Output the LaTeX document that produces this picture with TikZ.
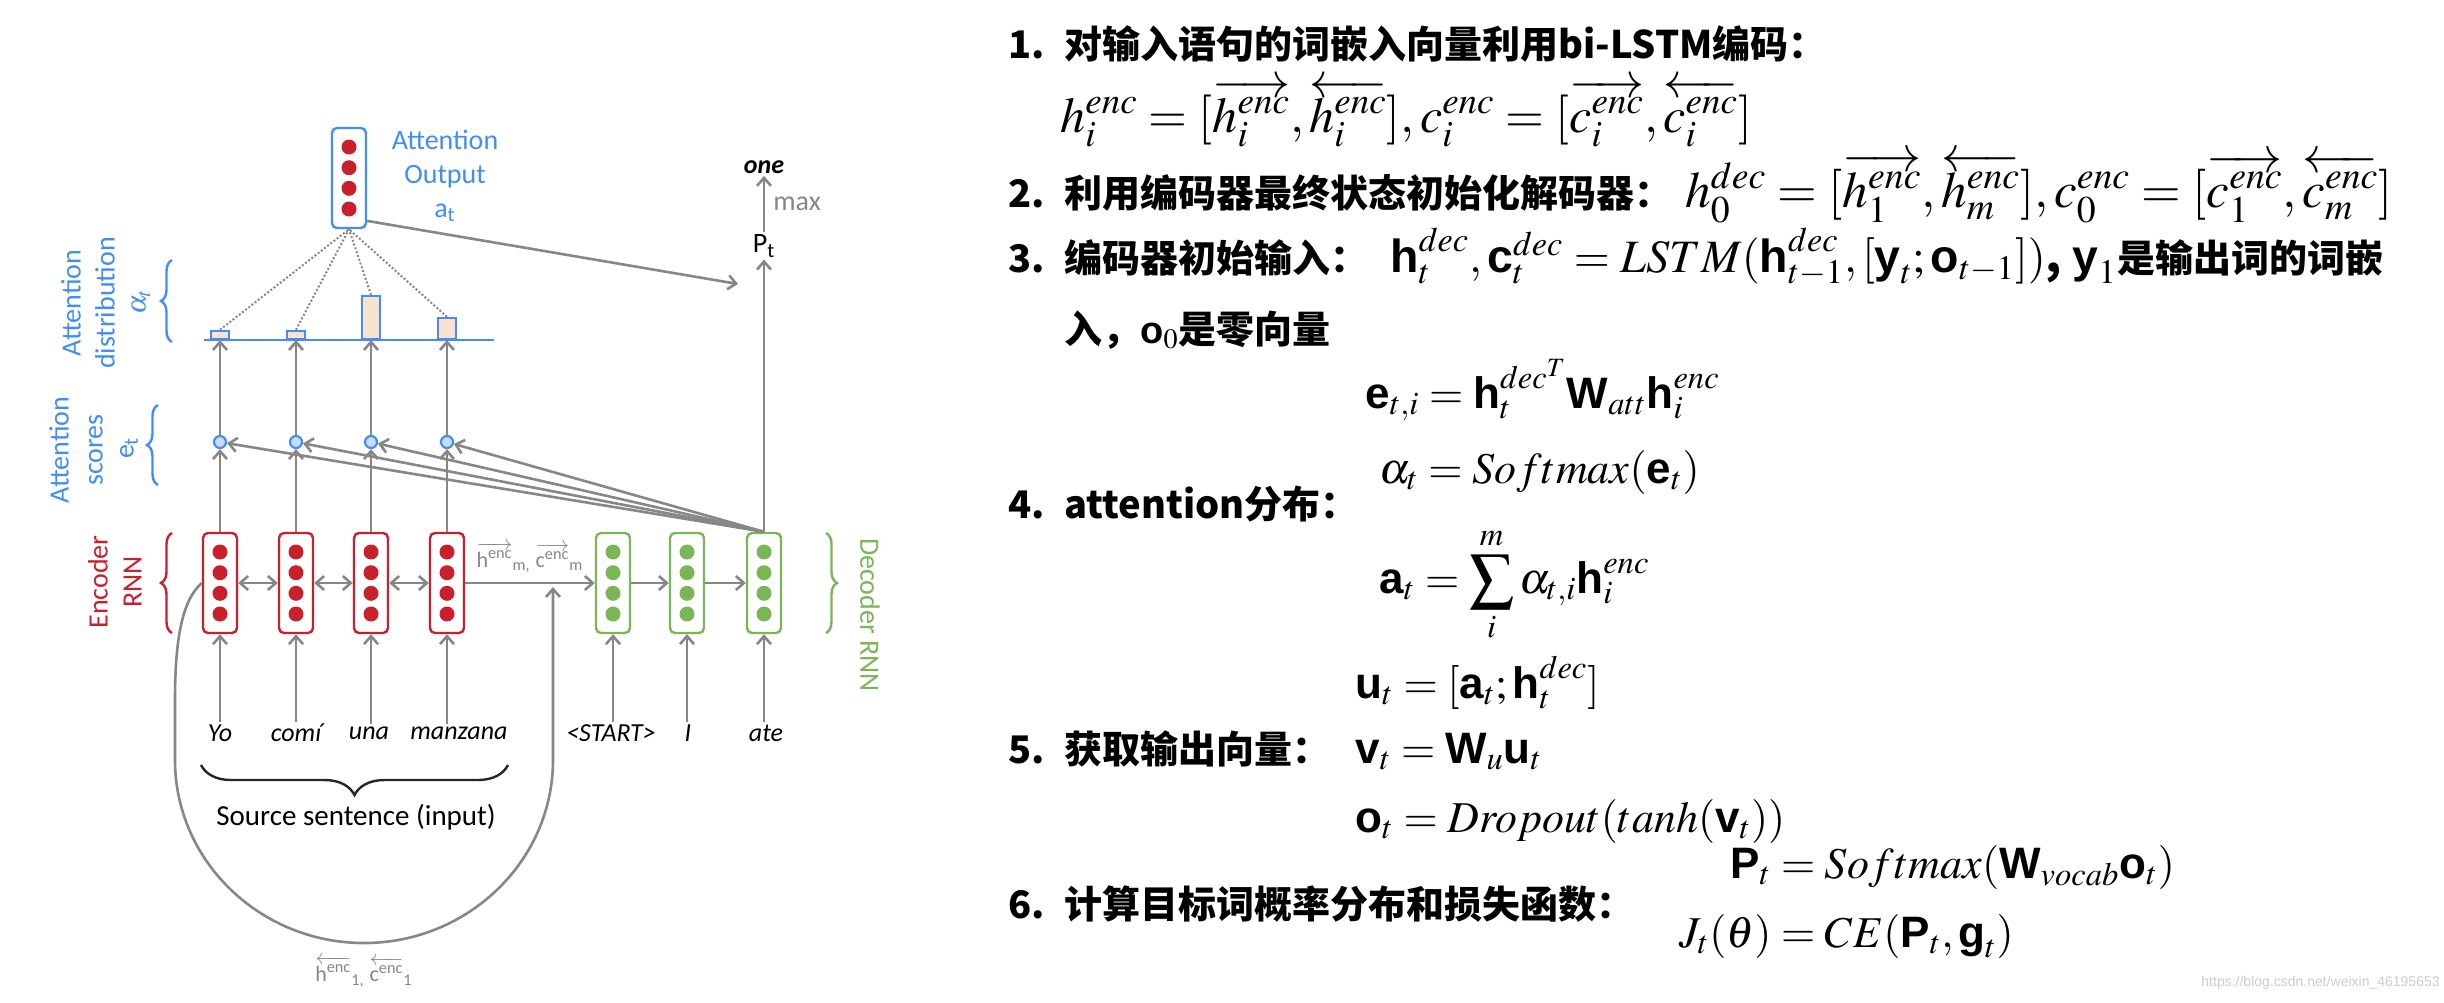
\documentclass[tikz,border=0pt]{standalone}
\usepackage{amsmath}
\usepackage{mathptmx}
\usepackage[no-math]{fontspec}
\setmainfont{Liberation Sans}
\setsansfont{Liberation Sans}
\newfontfamily\cjkfont{Noto Sans CJK SC}
\newfontfamily\diagfont{Carlito}
\usepackage{tikz}
\usetikzlibrary{arrows.meta, decorations.pathreplacing, positioning}

\definecolor{encred}{RGB}{200,32,44}
\definecolor{decgreen}{RGB}{122,182,86}
\definecolor{attblue}{RGB}{66,142,244}
\definecolor{linegray}{RGB}{135,135,135}
\definecolor{barfill}{RGB}{251,226,206}

\newcommand{\vecb}[1]{\text{\sffamily\bfseries #1}}
\newcommand{\stepno}[1]{\makebox[28pt][l]{#1}}

\begin{document}
\begin{tikzpicture}[
        x=0.5pt, y=-0.5pt,
        cell/.style={draw, rounded corners=2.5pt, line width=1.2pt, fill=white, minimum width=17pt, minimum height=50pt, inner sep=0pt},
        bead/.style={circle, inner sep=0pt, minimum size=7.5pt},
        score/.style={circle, draw=attblue, fill=attblue!30, line width=1.1pt, minimum size=6pt, inner sep=0pt},
        bar/.style={draw=attblue, fill=barfill, line width=1.1pt, minimum width=9pt, inner sep=0pt, anchor=south},
        conn/.style={draw=linegray, line width=1.3pt, -{Straight Barb[length=4pt, width=7pt]}},
        biconn/.style={conn, {Straight Barb[length=4pt, width=7pt]}-{Straight Barb[length=4pt, width=7pt]}},
        attlink/.style={draw=linegray, line width=1pt, densely dotted},
        lbl/.style={font=\diagfont\fontsize{14}{17}\selectfont, inner sep=1pt, align=center},
        word/.style={font=\diagfont\itshape\fontsize{13}{16}\selectfont, inner sep=1pt},
        brc/.style={decorate, decoration={brace, amplitude=5.5pt}, line width=1.2pt},
        txt/.style={anchor=base west, inner sep=0pt, font=\cjkfont\bfseries\fontsize{19}{23}\selectfont},
        mth/.style={anchor=base west, inner sep=0pt, font=\cjkfont\bfseries\fontsize{22}{26}\selectfont},
        bigmth/.style={mth, font=\cjkfont\bfseries\fontsize{#1}{30}\selectfont}
    ]
    \fill[white] (0,0) rectangle (2444,1002);
    \useasboundingbox (0,0) rectangle (2444,1002);

    % attention output
    \node[cell, draw=attblue] (att) at (349,178) {};
    \foreach \k/\d in {1/-31, 2/-10.3, 3/10.3, 4/31}
        \node[bead, fill=encred] (att-\k) at (349,{178+\d}) {};
    \node[lbl, text=attblue] (attlab) at (445,176) {Attention\\Output\\a\textsubscript{t}};

    % encoder and decoder
    \foreach \n/\x in {1/220, 2/296, 3/371, 4/447} {
        \node[cell, draw=encred] (enc\n) at (\x,583) {};
        \foreach \k/\d in {1/-31, 2/-10.3, 3/10.3, 4/31}
            \node[bead, fill=encred] (enc\n-\k) at (\x,{583+\d}) {};
        \node[score] (sc\n) at (\x,442) {};
    }
    \foreach \n/\x in {1/613, 2/687, 3/764} {
        \node[cell, draw=decgreen] (dec\n) at (\x,583) {};
        \foreach \k/\d in {1/-31, 2/-10.3, 3/10.3, 4/31}
            \node[bead, fill=decgreen] (dec\n-\k) at (\x,{583+\d}) {};
    }

    % attention distribution
    \node[bar, minimum height=4pt] (bar1) at (220,340) {};
    \node[bar, minimum height=4pt] (bar2) at (296,340) {};
    \node[bar, minimum height=21.5pt] (bar3) at (371,340) {};
    \node[bar, minimum height=10.5pt] (bar4) at (447,340) {};
    \coordinate (axisL) at (204,340);
    \coordinate (axisR) at (494,340);
    \draw[attblue, line width=1.4pt] (axisL) -- (axisR);

    \foreach \n in {1,...,4} {
        \draw[conn] (enc\n) -- (sc\n);
        \draw[conn] (sc\n) -- (bar\n.south);
        \draw[conn] (dec3.north) -- (sc\n);
        \draw[attlink] (bar\n.north) -- (att.south);
    }

    % output
    \node[lbl, font=\diagfont\itshape\bfseries\fontsize{13}{16}\selectfont] (one) at (764,167) {one};
    \node[lbl] (pt) at (764,246) {P\textsubscript{t}};
    \coordinate (pjoin) at (738,284);
    \draw[conn] (dec3) -- (pt);
    \draw[conn] (pt) -- node[lbl, right=3pt, text=linegray] (maxlab) {max} (one);
    \draw[conn] (att.-67) -- (pjoin);

    % recurrence
    \draw[biconn] (enc1) -- (enc2);
    \draw[biconn] (enc2) -- (enc3);
    \draw[biconn] (enc3) -- (enc4);
    \draw[conn] (enc4) -- node[above=1pt, text=linegray, font=\diagfont\fontsize{11}{13}\selectfont] (hm)
        {$\overrightarrow{\text{h}^{\text{enc}}}$\textsubscript{m,} $\overrightarrow{\text{c}^{\text{enc}}}$\textsubscript{m}} (dec1);
    \draw[conn] (dec1) -- (dec2);
    \draw[conn] (dec2) -- (dec3);
    \coordinate (merge) at (553,587);
    \draw[conn] (enc1.west) .. controls (182,600) and (175,640) .. (175,700) -- (175,760)
        .. controls (175,861) and (260,943) .. (364,943)
        .. controls (468,943) and (553,861) .. (553,760) -- (merge);
    \node[text=linegray, font=\diagfont\fontsize{11}{13}\selectfont] (h1) at (364,972)
        {$\overleftarrow{\text{h}^{\text{enc}}}$\textsubscript{1,} $\overleftarrow{\text{c}^{\text{enc}}}$\textsubscript{1}};

    % inputs
    \node[word] (w1) at (220,733) {Yo};
    \node[word] (w2) at (296,733) {comí};
    \node[word] (w3) at (369,733) {una};
    \node[word] (w4) at (459,733) {manzana};
    \node[word] (w5) at (611,733) {<START>};
    \node[word] (w6) at (688,733) {I};
    \node[word] (w7) at (766,733) {ate};
    \draw[conn] (enc1 |- w1.north) -- (enc1);
    \draw[conn] (enc2 |- w2.north) -- (enc2);
    \draw[conn] (enc3 |- w3.north) -- (enc3);
    \draw[conn] (enc4 |- w4.north) -- (enc4);
    \draw[conn] (dec1 |- w5.north) -- (dec1);
    \draw[conn] (dec2 |- w6.north) -- (dec2);
    \draw[conn] (dec3 |- w7.north) -- (dec3);
    \draw[brc, decoration={brace, amplitude=15pt}, black!85] (508,765) -- (201,765);
    \node[lbl, font=\diagfont\fontsize{14.5}{17}\selectfont] (src) at (356,817) {Source sentence (input)};

    % braces and side labels
    \draw[brc, attblue] (172,342) -- (172,260);
    \draw[brc, attblue] (158,485) -- (158,405);
    \draw[brc, encred] (172,633) -- (172,533);
    \draw[brc, decgreen] (826,533) -- (826,633);
    \node[lbl, text=attblue, rotate=90] (distlab) at (88,303) {Attention\\distribution};
    \node[lbl, text=attblue, rotate=90] (alab) at (141,302) {$\alpha_t$};
    \node[lbl, text=attblue, rotate=90] (scorelab) at (76,450) {Attention\\scores};
    \node[lbl, text=attblue, rotate=90] (elab) at (129,448) {e\textsubscript{t}};
    \node[lbl, text=encred, rotate=90] (enclab) at (115,582) {Encoder\\RNN};
    \node[lbl, text=decgreen, rotate=-90] (declab) at (870,615) {Decoder RNN};

    % steps
    \node[txt] (l1) at (1008,58) {\stepno{1.}对输入语句的词嵌入向量利用bi-LSTM编码：};
    \node[bigmth=25] (f1) at (1060,132) {$h_i^{enc} = [\overrightarrow{h_i^{enc}}, \overleftarrow{h_i^{enc}}], c_i^{enc} = [\overrightarrow{c_i^{enc}}, \overleftarrow{c_i^{enc}}]$};
    \node[txt] (l2) at (1008,207) {\stepno{2.}利用编码器最终状态初始化解码器：};
    \node[bigmth=25.5] (f2) at (1685,207) {$h_0^{dec} = [\overrightarrow{h_1^{enc}}, \overleftarrow{h_m^{enc}}], c_0^{enc} = [\overrightarrow{c_1^{enc}}, \overleftarrow{c_m^{enc}}]$};
    \node[txt] (l3) at (1008,272) {\stepno{3.}编码器初始输入：};
    \node[bigmth=23.2] (f3) at (1390,272) {$\vecb{h}_t^{dec}, \vecb{c}_t^{dec} = LSTM(\vecb{h}_{t-1}^{dec}, [\vecb{y}_t; \vecb{o}_{t-1}])$, $\vecb{y}_1$};
    \node[txt] (l3c) at (f3.base east) {是输出词的词嵌};
    \node[txt] (l3d) at (1064,343) {入，$\vecb{o}_0$是零向量};
    \node[mth] (f4) at (1365,408) {$\vecb{e}_{t,i} = \vecb{h}_t^{dec^T}\vecb{W}_{att}\vecb{h}_i^{enc}$};
    \node[mth] (f5) at (1379,483) {$\alpha_t = Softmax(\vecb{e}_t)$};
    \node[txt] (l4) at (1008,518) {\stepno{4.}attention分布：};
    \node[mth] (f6) at (1379,593) {$\displaystyle \vecb{a}_t = \sum_i^m \alpha_{t,i}\vecb{h}_i^{enc}$};
    \node[mth] (f7) at (1355,698) {$\vecb{u}_t = [\vecb{a}_t; \vecb{h}_t^{dec}]$};
    \node[txt] (l5) at (1008,763) {\stepno{5.}获取输出向量：};
    \node[mth] (f8) at (1355,763) {$\vecb{v}_t = \vecb{W}_u\vecb{u}_t$};
    \node[mth] (f9) at (1355,832) {$\vecb{o}_t = Dropout(tanh(\vecb{v}_t))$};
    \node[mth] (f10) at (1730,878) {$\vecb{P}_t = Softmax(\vecb{W}_{vocab}\vecb{o}_t)$};
    \node[txt] (l6) at (1008,918) {\stepno{6.}计算目标词概率分布和损失函数：};
    \node[mth] (f11) at (1679,947) {$J_t(\theta) = CE(\vecb{P}_t, \vecb{g}_t)$};
    \node[anchor=base east, inner sep=0pt, text=black!20, font=\sffamily\fontsize{7}{8}\selectfont] (wm) at (2440,986) {https://blog.csdn.net/weixin\_46195653};
\end{tikzpicture}
\end{document}
